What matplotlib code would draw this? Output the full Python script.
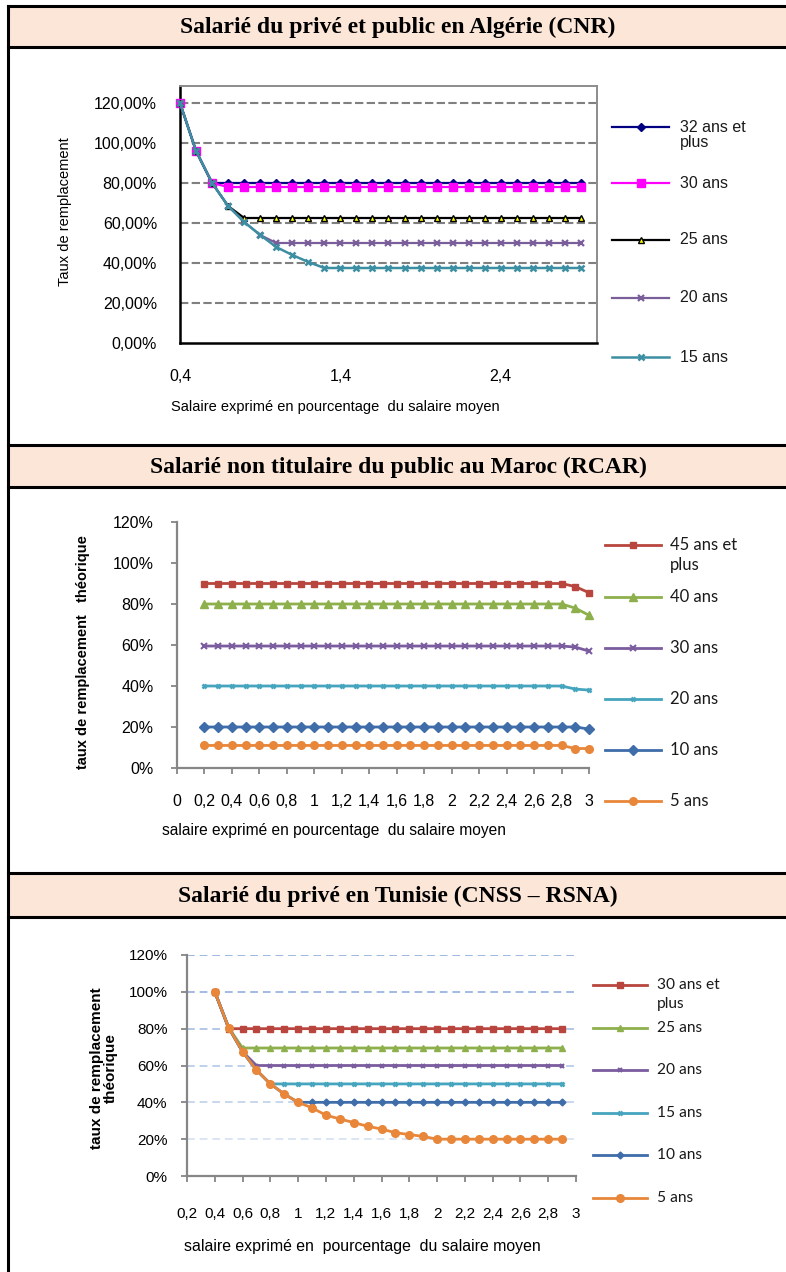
import numpy as np
import matplotlib.pyplot as plt
from matplotlib.lines import Line2D
from matplotlib.patches import Rectangle
from matplotlib.ticker import FuncFormatter, MultipleLocator, FixedLocator

# --- Algérie (CNR) ---
x_dz = [0.4, 0.5, 0.6, 0.7, 0.8, 0.9, 1.0, 1.1, 1.2, 1.3, 1.4, 1.5, 1.6,
        1.7, 1.8, 1.9, 2.0, 2.1, 2.2, 2.3, 2.4, 2.5, 2.6, 2.7, 2.8, 2.9]
dz_32 = [120, 96, 80, 80, 80, 80, 80, 80, 80, 80, 80, 80, 80,
         80, 80, 80, 80, 80, 80, 80, 80, 80, 80, 80, 80, 80]
dz_30 = [120, 96, 80, 78, 78, 78, 78, 78, 78, 78, 78, 78, 78,
         78, 78, 78, 78, 78, 78, 78, 78, 78, 78, 78, 78, 78]
dz_25 = [120, 96, 80, 68.5, 62.5, 62.5, 62.5, 62.5, 62.5, 62.5, 62.5, 62.5, 62.5,
         62.5, 62.5, 62.5, 62.5, 62.5, 62.5, 62.5, 62.5, 62.5, 62.5, 62.5, 62.5, 62.5]
dz_20 = [120, 96, 80, 68.5, 60.5, 54, 50, 50, 50, 50, 50, 50, 50,
         50, 50, 50, 50, 50, 50, 50, 50, 50, 50, 50, 50, 50]
dz_15 = [120, 96, 80, 68.5, 60.5, 54, 48, 44, 40.5, 37.5, 37.5, 37.5, 37.5,
         37.5, 37.5, 37.5, 37.5, 37.5, 37.5, 37.5, 37.5, 37.5, 37.5, 37.5, 37.5, 37.5]
dz_labels = ["32 ans et\nplus", "30 ans", "25 ans", "20 ans", "15 ans"]

# --- Maroc (RCAR) ---
x_ma = [0.2, 0.3, 0.4, 0.5, 0.6, 0.7, 0.8, 0.9, 1.0, 1.1, 1.2, 1.3, 1.4, 1.5,
        1.6, 1.7, 1.8, 1.9, 2.0, 2.1, 2.2, 2.3, 2.4, 2.5, 2.6, 2.7, 2.8, 2.9, 3.0]
ma_45 = [90, 90, 90, 90, 90, 90, 90, 90, 90, 90, 90, 90, 90, 90,
         90, 90, 90, 90, 90, 90, 90, 90, 90, 90, 90, 90, 90, 88.5, 85.5]
ma_40 = [80, 80, 80, 80, 80, 80, 80, 80, 80, 80, 80, 80, 80, 80,
         80, 80, 80, 80, 80, 80, 80, 80, 80, 80, 80, 80, 80, 78, 74.5]
ma_30 = [59.5, 59.5, 59.5, 59.5, 59.5, 59.5, 59.5, 59.5, 59.5, 59.5, 59.5, 59.5, 59.5, 59.5,
         59.5, 59.5, 59.5, 59.5, 59.5, 59.5, 59.5, 59.5, 59.5, 59.5, 59.5, 59.5, 59.5, 59, 57]
ma_20 = [40, 40, 40, 40, 40, 40, 40, 40, 40, 40, 40, 40, 40, 40,
         40, 40, 40, 40, 40, 40, 40, 40, 40, 40, 40, 40, 40, 38.5, 38]
ma_10 = [20, 20, 20, 20, 20, 20, 20, 20, 20, 20, 20, 20, 20, 20,
         20, 20, 20, 20, 20, 20, 20, 20, 20, 20, 20, 20, 20, 20, 19]
ma_5 = [11, 11, 11, 11, 11, 11, 11, 11, 11, 11, 11, 11, 11, 11,
        11, 11, 11, 11, 11, 11, 11, 11, 11, 11, 11, 11, 11, 9.5, 9.5]
ma_labels = ["45 ans et\nplus", "40 ans", "30 ans", "20 ans", "10 ans", "5 ans"]

# --- Tunisie (CNSS - RSNA) ---
x_tn = [0.4, 0.5, 0.6, 0.7, 0.8, 0.9, 1.0, 1.1, 1.2, 1.3, 1.4, 1.5, 1.6,
        1.7, 1.8, 1.9, 2.0, 2.1, 2.2, 2.3, 2.4, 2.5, 2.6, 2.7, 2.8, 2.9]
tn_30 = [100, 80, 80, 80, 80, 80, 80, 80, 80, 80, 80, 80, 80,
         80, 80, 80, 80, 80, 80, 80, 80, 80, 80, 80, 80, 80]
tn_25 = [100, 80.5, 69.5, 69.5, 69.5, 69.5, 69.5, 69.5, 69.5, 69.5, 69.5, 69.5, 69.5,
         69.5, 69.5, 69.5, 69.5, 69.5, 69.5, 69.5, 69.5, 69.5, 69.5, 69.5, 69.5, 69.5]
tn_20 = [100, 80.5, 67.5, 60, 60, 60, 60, 60, 60, 60, 60, 60, 60,
         60, 60, 60, 60, 60, 60, 60, 60, 60, 60, 60, 60, 60]
tn_15 = [100, 80.5, 67.5, 57.5, 50, 50, 50, 50, 50, 50, 50, 50, 50,
         50, 50, 50, 50, 50, 50, 50, 50, 50, 50, 50, 50, 50]
tn_10 = [100, 80.5, 67.5, 57.5, 50, 44.5, 40, 40, 40, 40, 40, 40, 40,
         40, 40, 40, 40, 40, 40, 40, 40, 40, 40, 40, 40, 40]
tn_5 = [100, 80.5, 67.5, 57.5, 50, 44.5, 40, 37, 33, 31, 29, 27, 25.5,
        23.5, 22.5, 21.5, 20, 20, 20, 20, 20, 20, 20, 20, 20, 20]
tn_labels = ["30 ans et\nplus", "25 ans", "20 ans", "15 ans", "10 ans", "5 ans"]

titles = ["Salarié du privé et public en Algérie (CNR)",
          "Salarié non titulaire du public au Maroc (RCAR)",
          "Salarié du privé en Tunisie (CNSS \u2013 RSNA)"]

W, H = 786, 1272
SANS = "Liberation Sans"
SERIF = "Liberation Serif"
CAL = "Lato"

fig = plt.figure(figsize=(W / 100, H / 100), dpi=100)


def fx(x):
    return x / W


def fy(y):
    return 1 - y / H


def add_ax(x0, y0, x1, y1):
    return fig.add_axes([fx(x0), fy(y1), (x1 - x0) / W, (y1 - y0) / H])


def comma(v, dec=None):
    s = f"{v:.{dec}f}" if dec is not None else f"{v:g}"
    return s.replace(".", ",")


def draw_series(ax, xs, ys, st):
    ax.plot(xs, ys, color=st["color"], lw=st["lw"], marker=st["marker"], ms=st["ms"],
            mfc=st.get("mfc", st["color"]), mec=st.get("mec", st["color"]),
            mew=st.get("mew", 1), clip_on=False, zorder=3)


def key(x0, x1, y, label, tx, family, size, dy, **style):
    # one legend row: short line with the marker centred, label to the right
    line = Line2D([fx(x0), fx(x1)], [fy(y), fy(y)], transform=fig.transFigure,
                  color=style["color"], lw=style.get("lw", 2))
    mark = Line2D([fx((x0 + x1) / 2)], [fy(y)], transform=fig.transFigure,
                  marker=style["marker"], ms=style["ms"], color=style["color"],
                  mfc=style.get("mfc", style["color"]),
                  mec=style.get("mec", style["color"]), mew=style.get("mew", 1))
    fig.add_artist(line)
    fig.add_artist(mark)
    for i, part in enumerate(label.split("\n")):
        fig.text(fx(tx), fy(y + i * dy), part, family=family, size=size,
                 va="center", ha="left", color="#1a1a1a")


# ---------- table frame ----------
headers = [(6, 47), (445, 487), (873, 917)]
for (top, bot), title in zip(headers, titles):
    fig.add_artist(Rectangle((fx(8), fy(bot)), 1, (bot - top) / H,
                             transform=fig.transFigure, facecolor="#FCE6D8",
                             edgecolor="none"))
    for yy in (top, bot):
        fig.add_artist(Line2D([fx(8), 1], [fy(yy), fy(yy)], transform=fig.transFigure,
                              color="black", lw=2.2))
    fig.text(fx(398), fy((top + bot) / 2 + 1), title, family=SERIF, weight="bold",
             size=17, ha="center", va="center")
fig.add_artist(Line2D([fx(8), fx(8)], [fy(6), 0], transform=fig.transFigure,
                      color="black", lw=2.2))

# ---------- Algérie ----------
ax1 = add_ax(180, 86, 597, 343)
dz_styles = [
    dict(color="#000080", marker="D", ms=4, lw=1.6),
    dict(color="#FF00FF", marker="s", ms=6, lw=1.6),
    dict(color="#000000", marker="^", ms=5, mfc="#FFFF00", mec="#000000", lw=1.6),
    dict(color="#7A5E99", marker="x", ms=4.5, mew=1.6, lw=1.6),
    dict(color="#3C8FA3", marker="x", ms=5, mew=1.8, lw=1.8),
]
for ys, st in zip([dz_32, dz_30, dz_25, dz_20, dz_15], dz_styles):
    draw_series(ax1, x_dz, ys, st)
ax1.set_xlim(0.4, 3.0)
ax1.set_ylim(0, 128.5)
ax1.set_yticks([0, 20, 40, 60, 80, 100, 120])
ax1.set_xticks([0.4, 1.4, 2.4])
ax1.yaxis.set_major_formatter(FuncFormatter(lambda v, _: comma(v, 2) + "%"))
ax1.xaxis.set_major_formatter(FuncFormatter(lambda v, _: comma(round(v, 1))))
ax1.tick_params(axis="y", length=0, pad=16.5, labelsize=11.5)
ax1.tick_params(axis="x", length=0, pad=19, labelsize=11.5)
for lab in ax1.get_xticklabels() + ax1.get_yticklabels():
    lab.set_family(SANS)
for yv in [20, 40, 60, 80, 100, 120]:
    ax1.axhline(yv, color="#808080", lw=1.5, ls=(0, (4, 1.6)), zorder=1)
for side in ("top", "right"):
    ax1.spines[side].set_color("#8c8c8c")
    ax1.spines[side].set_linewidth(1.4)
for side in ("left", "bottom"):
    ax1.spines[side].set_color("black")
    ax1.spines[side].set_linewidth(1.8)
fig.text(fx(65), fy(212), "Taux de remplacement", rotation=90, family=SANS,
         size=10.5, ha="center", va="center")
fig.text(fx(335), fy(407), "Salaire exprimé en pourcentage  du salaire moyen",
         family=SANS, size=10.5, ha="center", va="center")
for lab, st, yk in zip(dz_labels, dz_styles, [127, 183, 240, 298, 357]):
    key(612, 669, yk, lab, 680, SANS, 11.5, 16, **st)

# ---------- Maroc ----------
ax2 = add_ax(177, 522, 589, 768)
ma_styles = [
    dict(color="#B8463F", marker="s", ms=5, lw=2),
    dict(color="#8DB04C", marker="^", ms=5.5, lw=2),
    dict(color="#7A5C9F", marker="x", ms=4, mew=1.5, lw=2),
    dict(color="#45A5BE", marker="x", ms=3.5, mew=1.8, lw=2),
    dict(color="#3E6DA9", marker="D", ms=5.5, lw=2),
    dict(color="#E8863A", marker="o", ms=5.5, lw=2),
]
for ys, st in zip([ma_45, ma_40, ma_30, ma_20, ma_10, ma_5], ma_styles):
    draw_series(ax2, x_ma, ys, st)
ax2.set_xlim(0, 3.0)
ax2.set_ylim(0, 120)
ax2.yaxis.set_major_locator(MultipleLocator(20))
ax2.xaxis.set_major_locator(MultipleLocator(0.2))
ax2.yaxis.set_major_formatter(FuncFormatter(lambda v, _: f"{v:.0f}%"))
ax2.xaxis.set_major_formatter(FuncFormatter(lambda v, _: comma(round(v, 1))))
ax2.tick_params(axis="y", length=4, width=1.3, color="#868686", pad=13, labelsize=11.5)
ax2.tick_params(axis="x", length=4, width=1.3, color="#868686", pad=15, labelsize=11.5)
for lab in ax2.get_xticklabels() + ax2.get_yticklabels():
    lab.set_family(SANS)
for side in ("top", "right"):
    ax2.spines[side].set_visible(False)
for side in ("left", "bottom"):
    ax2.spines[side].set_color("#868686")
    ax2.spines[side].set_linewidth(1.6)
fig.text(fx(83), fy(652), "taux de remplacement   théorique", rotation=90,
         family=SANS, weight="bold", size=10.5, ha="center", va="center")
fig.text(fx(334), fy(830), "salaire exprimé en pourcentage  du salaire moyen",
         family=SANS, size=11.2, ha="center", va="center")
for lab, st, yk in zip(ma_labels, ma_styles, [545, 597, 648, 699, 750, 801]):
    key(605, 661, yk, lab, 670, CAL, 12, 20, **st)

# ---------- Tunisie ----------
ax3 = add_ax(187, 955, 576, 1176)
tn_styles = [
    dict(color="#B8463F", marker="s", ms=4, lw=2),
    dict(color="#8DB04C", marker="^", ms=4, lw=2),
    dict(color="#7A5C9F", marker="x", ms=3.5, mew=1.5, lw=2),
    dict(color="#45A5BE", marker="x", ms=3.5, mew=1.8, lw=2),
    dict(color="#3E6DA9", marker="D", ms=3.5, lw=2),
    dict(color="#E8863A", marker="o", ms=5.5, lw=2),
]
for ys, st in zip([tn_30, tn_25, tn_20, tn_15, tn_10, tn_5], tn_styles):
    draw_series(ax3, x_tn, ys, st)
ax3.set_xlim(0.2, 3.0)
ax3.set_ylim(0, 120)
ax3.yaxis.set_major_locator(MultipleLocator(20))
ax3.xaxis.set_major_locator(FixedLocator(np.round(np.arange(0.2, 3.01, 0.2), 1)))
ax3.yaxis.set_major_formatter(FuncFormatter(lambda v, _: f"{v:.0f}%"))
ax3.xaxis.set_major_formatter(FuncFormatter(lambda v, _: comma(round(v, 1))))
ax3.tick_params(axis="y", length=4, width=1.3, color="#868686", pad=10, labelsize=11)
ax3.tick_params(axis="x", length=4, width=1.3, color="#868686", pad=18, labelsize=11)
for lab in ax3.get_xticklabels() + ax3.get_yticklabels():
    lab.set_family(SANS)
grid_cols = {20: "#DCE5F3", 40: "#C9D7EE", 60: "#BFD0EC", 80: "#B3C7E8",
             100: "#A2BBE4", 120: "#9EB8E3"}
for yv, gc in grid_cols.items():
    ax3.axhline(yv, color=gc, lw=1.4, ls=(0, (4, 2.5)), zorder=1)
for side in ("top", "right"):
    ax3.spines[side].set_visible(False)
for side in ("left", "bottom"):
    ax3.spines[side].set_color("#868686")
    ax3.spines[side].set_linewidth(1.6)
fig.text(fx(104), fy(1068), "taux de remplacement\nthéorique", rotation=90,
         family=SANS, weight="bold", size=11, ha="center", va="center",
         multialignment="center", linespacing=1.0)
fig.text(fx(362), fy(1247), "salaire exprimé en  pourcentage  du salaire moyen",
         family=SANS, size=11.4, ha="center", va="center")
for lab, st, yk in zip(tn_labels, tn_styles, [985, 1028, 1070, 1113, 1155, 1198]):
    key(593, 647, yk, lab, 657, CAL, 11.2, 19, **st)

fig.savefig("out.png", dpi=100)
